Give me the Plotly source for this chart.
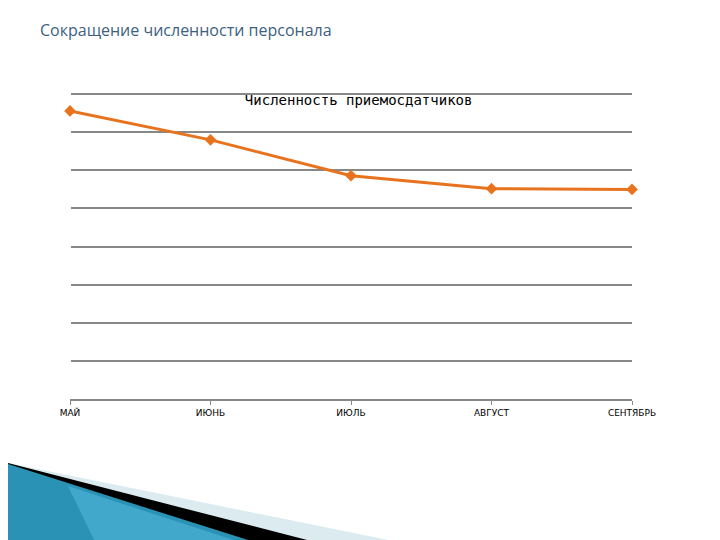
import plotly.graph_objects as go

months = ["МАЙ", "ИЮНЬ", "ИЮЛЬ", "АВГУСТ", "СЕНТЯБРЬ"]
staff = [7.56, 6.8, 5.86, 5.52, 5.5]

fig = go.Figure()
fig.add_trace(go.Scatter(
    x=list(range(len(months))), y=staff, mode="lines+markers",
    line=dict(color="#E8731E", width=3),
    marker=dict(symbol="diamond", size=9, color="#E8731E"),
    cliponaxis=False, showlegend=False
))

# pixel -> paper (plot area spans x 62..624, y 85..391)
def px(x, y):
    return f"{(x - 62)/562:.4f},{(391 - y)/306:.4f}"


shapes = [
    dict(type="path", xref="paper", yref="paper", line_width=0, fillcolor="#DCEBF0",
         path=f"M {px(0,455)} L {px(420,540)} L {px(0,540)} Z"),
    dict(type="path", xref="paper", yref="paper", line_width=0, fillcolor="#000000",
         path=f"M {px(0,455)} L {px(330,540)} L {px(0,540)} Z"),
    dict(type="path", xref="paper", yref="paper", line_width=0,
         fillcolor="#2A93B5",
         path=f"M {px(0,456)} L {px(265,540)} L {px(0,540)} Z"),
    dict(type="path", xref="paper", yref="paper", line_width=0,
         fillcolor="rgba(90,190,225,0.5)",
         path=f"M {px(60,478)} L {px(250,540)} L {px(90,540)} Z"),
]

fig.update_layout(
    width=720, height=540,
    margin=dict(l=62, r=96, t=85, b=149),
    paper_bgcolor="white", plot_bgcolor="white",
    shapes=shapes,
    title=dict(text="Численность приемосдатчиков", x=0.487, xanchor="center",
               y=1 - 92/540, yanchor="middle",
               font=dict(family="DejaVu Sans Mono", size=14, color="black")),
    annotations=[dict(text="Сокращение численности персонала", xref="paper", yref="paper",
                      x=(30 - 62)/562, y=(391 - 22)/306, xanchor="left", yanchor="middle",
                      showarrow=False,
                      font=dict(family="Open Sans", size=16, color="#3E5F80"))],
    xaxis=dict(range=[0, 4], tickvals=list(range(len(months))), ticktext=months,
               showgrid=False, showline=True, linecolor="#888888", linewidth=2,
               ticks="outside", ticklen=4, tickcolor="#888888",
               tickfont=dict(family="DejaVu Sans", size=9, color="black")),
    yaxis=dict(range=[0, 8.03], dtick=1, showticklabels=False, showgrid=True,
               gridcolor="#888888", gridwidth=2, zeroline=False),
)

fig.write_html("out.html")
